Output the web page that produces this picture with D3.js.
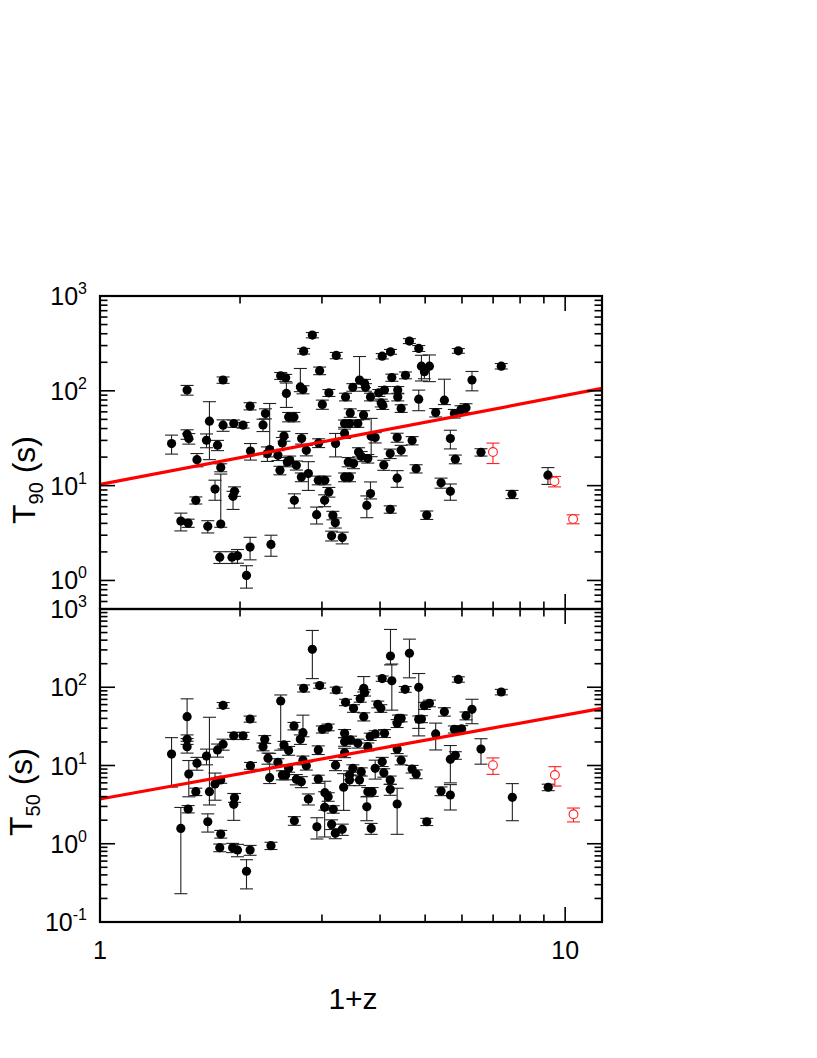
<!DOCTYPE html>
<meta charset="utf-8">
<html>
<head>
<title>T90 and T50 versus 1+z</title>
<script src="https://cdn.jsdelivr.net/npm/d3@7"></script>
<style>
body { margin: 0; background: #fff; }
text { font-family: "Liberation Sans", Arial, sans-serif; fill: #000; }
</style>
</head>
<body>
<script>
// each row: [1+z, duration (s), error down, error up]
var t90Rows = [
  [1.425, 27.8, 6.3, 6.3], [1.539, 102, 12, 12], [1.539, 34.8, 4, 4], [1.552, 31.4, 4, 4],
  [1.492, 4.23, 0.9, 0.9], [1.547, 4.03, 0.4, 0.4], [1.607, 7.0, 0.6, 0.6], [1.616, 18.8, 3, 3],
  [1.694, 30.1, 5, 5], [1.705, 3.72, 0.55, 0.55], [1.719, 47.8, 29, 29], [1.767, 9.21, 2.2, 2.2],
  [1.789, 26.7, 3.3, 3.3], [1.818, 15.5, 1.5, 1.5], [1.818, 3.94, 0.3, 9.3], [1.839, 130, 10, 10],
  [1.839, 43.4, 6, 6], [1.939, 45.2, 4, 4], [1.946, 8.71, 1, 1], [1.932, 7.71, 2.1, 1],
  [2.030, 43.4, 3, 3], [1.809, 1.76, 0.25, 0.25], [1.922, 1.76, 0.25, 0.25], [1.975, 1.82, 0.3, 0.3],
  [2.102, 2.25, 0.6, 0.6], [2.065, 1.13, 0.3, 0.3], [2.102, 68.9, 6, 6], [2.106, 23.2, 4.6, 4.6],
  [2.331, 2.40, 0.6, 0.6], [2.241, 43.7, 6.5, 6.5], [2.268, 57.6, 7, 7], [2.290, 21.8, 3.8, 3.8],
  [2.316, 24.0, 3.9, 49.5], [2.413, 20.9, 2.5, 2.5], [2.437, 14.5, 1.5, 1.5], [2.466, 28.2, 4, 4],
  [2.486, 33.4, 4, 4], [2.446, 144, 12, 12], [2.507, 137, 12, 12], [2.516, 93.8, 27, 27],
  [2.544, 53.1, 6, 6], [2.612, 53.1, 6, 6], [2.528, 17.8, 2, 2], [2.557, 18.5, 2, 2],
  [2.617, 7.0, 1.2, 1.2], [2.643, 16.4, 1.8, 1.8], [2.696, 110, 12, 62], [2.731, 103, 10, 10],
  [2.713, 31.4, 4, 4], [2.777, 23.6, 3, 3], [2.709, 12.3, 1.3, 1.3], [2.805, 13.4, 4.5, 4.5],
  [2.740, 262, 18, 18], [2.861, 387, 25, 25], [2.966, 163, 15, 15], [3.006, 71.8, 8, 8],
  [3.105, 95.2, 8, 8], [2.951, 28.2, 3, 3], [2.922, 4.94, 1, 1], [2.946, 11.4, 1.2, 1.2],
  [3.044, 11.4, 1.2, 1.2], [3.105, 8.57, 1, 1], [3.040, 7.0, 1, 1], [3.167, 4.86, 0.5, 0.5],
  [3.205, 4.07, 0.5, 0.5], [3.147, 2.96, 0.35, 0.35], [3.317, 2.83, 0.4, 0.4], [3.220, 236, 18, 18],
  [3.372, 86.3, 8, 8], [3.209, 27.8, 7.7, 7.7], [3.356, 45.2, 4, 4], [3.356, 35.5, 4, 4],
  [3.417, 17.8, 2, 2], [3.356, 12.3, 1.3, 1.3], [4.043, 232, 15, 15], [4.212, 258, 15, 15],
  [4.626, 335, 20, 20], [4.844, 280, 20, 20], [4.909, 182, 55, 55], [4.982, 159, 25, 25],
  [5.107, 182, 57, 57], [5.893, 264, 15, 15], [7.289, 182, 12, 12], [6.305, 130, 30, 30],
  [4.240, 138, 12, 12], [4.536, 146, 12, 12], [3.613, 130, 12, 100], [3.704, 120, 12, 12],
  [3.722, 109, 10, 10], [3.496, 109, 10, 10], [3.975, 95.2, 8, 8], [4.089, 102, 9, 9],
  [4.366, 102, 9, 9], [4.366, 86.3, 8, 8], [4.023, 74.6, 7, 7], [4.054, 70.6, 7, 7],
  [3.815, 86.3, 8, 8], [4.844, 81.7, 20, 20], [4.440, 65.2, 6, 6], [5.500, 79.6, 8, 53],
  [5.268, 59.0, 6, 6], [5.778, 57.6, 6, 6], [5.972, 63.6, 6, 6], [6.121, 66.1, 7, 7],
  [3.451, 58.5, 6, 6], [3.686, 55.7, 6, 6], [3.439, 45.2, 4, 4], [3.583, 45.2, 4, 4],
  [3.828, 33.2, 13, 18], [3.905, 32.2, 4, 4], [4.353, 32.2, 3.5, 3.5], [4.688, 29.9, 3, 3],
  [5.665, 31.4, 7, 7], [4.440, 23.6, 3, 3], [4.206, 21.8, 2.5, 2.5], [3.596, 22.6, 2.5, 2.5],
  [3.644, 20.4, 2.5, 2.5], [3.765, 19.3, 2, 2], [3.508, 17.1, 2, 2], [4.075, 16.5, 2, 2],
  [5.806, 19.0, 2, 2], [6.592, 22.5, 2, 2], [4.782, 15.1, 1.5, 1.5], [3.439, 12.3, 1.3, 1.3],
  [4.353, 12.0, 2.4, 2.4], [5.410, 10.7, 1.3, 1.3], [5.665, 8.71, 1.7, 1.7], [3.815, 8.24, 1, 2.7],
  [3.746, 6.19, 1.6, 1.6], [4.206, 5.62, 0.5, 0.5], [5.040, 4.90, 0.5, 0.5], [7.687, 8.10, 0.8, 0.8],
  [9.182, 12.9, 2.6, 2.6]
];
var t90Red = [[6.995, 22.6, 5.5, 5.5], [9.485, 11.1, 1.4, 1.4], [10.40, 4.44, 0.48, 0.48]];
var t90Fit = [[1, 10.3], [12, 106]];

var t50Rows = [
  [1.425, 14.0, 8.7, 8.7], [1.492, 1.57, 1.34, 1.34], [1.539, 42.1, 20, 29], [1.539, 21.6, 3, 3],
  [1.539, 17.4, 3, 3], [1.552, 7.78, 3.8, 3.8], [1.547, 2.78, 0.3, 0.3], [1.607, 4.63, 0.5, 0.5],
  [1.616, 10.7, 2, 2], [1.694, 13.2, 3, 3], [1.705, 1.91, 0.5, 0.5], [1.719, 4.63, 1.5, 36.7],
  [1.767, 5.80, 2.2, 2.2], [1.789, 15.8, 3, 3], [1.839, 18.7, 3, 3], [1.839, 58.8, 5, 5],
  [1.818, 6.53, 0.6, 0.6], [1.818, 1.33, 0.15, 0.15], [1.809, 0.891, 0.1, 0.1], [1.939, 24.0, 2.5, 2.5],
  [1.946, 3.88, 0.5, 0.5], [1.939, 3.19, 1.2, 1.2], [2.030, 24.0, 2.5, 2.5], [1.928, 0.891, 0.12, 0.12],
  [1.975, 0.832, 0.15, 0.15], [2.102, 0.832, 0.12, 0.12], [2.065, 0.445, 0.18, 0.18], [2.102, 39.3, 3.5, 3.5],
  [2.106, 9.94, 1, 1], [2.331, 0.944, 0.1, 0.1], [2.241, 17.4, 2, 2], [2.260, 21.6, 2.5, 2.5],
  [2.297, 12.4, 2, 2], [2.316, 6.98, 1.1, 7.3], [2.413, 11.0, 1.2, 1.2], [2.446, 66.7, 51, 13],
  [2.466, 7.56, 1, 1], [2.507, 7.56, 1, 1], [2.486, 18.3, 2, 2], [2.544, 15.5, 2, 2],
  [2.544, 9.20, 1, 1], [2.612, 32.0, 3.5, 3.5], [2.617, 1.97, 0.25, 0.25], [2.696, 21.6, 3, 3],
  [2.731, 26.3, 3, 17.7], [2.643, 6.66, 1, 1], [2.709, 6.21, 1, 1], [2.731, 11.7, 1.5, 1.5],
  [2.777, 9.94, 1.2, 1.2], [2.805, 3.73, 0.6, 0.6], [2.740, 97.0, 10, 10], [2.861, 305, 176, 227],
  [2.966, 105, 8, 8], [3.220, 92.2, 8, 8], [3.006, 29.0, 3, 3], [3.094, 30.8, 3, 3],
  [2.946, 15.8, 2, 2], [2.946, 6.72, 0.8, 0.8], [3.209, 10.1, 1.5, 1.5], [3.044, 4.49, 1.8, 1.8],
  [3.094, 3.99, 0.5, 0.5], [3.040, 2.92, 1.7, 1.7], [2.926, 1.65, 0.5, 0.5], [3.173, 2.76, 0.3, 0.3],
  [3.147, 1.77, 0.25, 0.25], [3.205, 1.36, 0.2, 0.2], [3.317, 1.53, 0.25, 0.25], [3.356, 25.8, 3, 3],
  [3.356, 20.1, 2.5, 2.5], [3.372, 64.2, 6, 6], [3.340, 5.27, 2.6, 2.6], [4.212, 251, 58, 297],
  [4.626, 272, 140, 140], [4.043, 129, 10, 10], [4.240, 121, 70, 77], [4.529, 94.2, 8, 8],
  [4.844, 99.8, 70, 50], [5.893, 126, 10, 10], [7.289, 86.9, 7, 7], [3.690, 97.0, 10, 40],
  [3.704, 85.2, 8, 8], [3.626, 71.4, 7, 7], [3.508, 53.8, 6, 6], [3.955, 60.5, 6, 6],
  [4.015, 53.8, 6, 6], [3.690, 42.1, 5, 5], [4.982, 58.1, 6, 6], [5.107, 62.4, 6, 6],
  [5.500, 48.7, 6, 6], [6.305, 52.2, 18, 18], [6.121, 43.3, 5, 5], [4.381, 40.1, 4, 4],
  [4.440, 40.1, 4, 4], [4.353, 34.6, 4, 4], [4.844, 38.9, 15, 4], [4.909, 39.3, 4, 4],
  [5.778, 29.0, 3, 3], [5.990, 29.3, 3, 3], [5.268, 25.3, 9.5, 9.5], [4.089, 25.8, 3, 3],
  [3.810, 23.4, 2.5, 2.5], [3.905, 25.3, 2.5, 2.5], [3.457, 21.2, 2.5, 2.5], [3.583, 19.2, 2.5, 2.5],
  [3.765, 17.4, 2, 2], [3.356, 14.6, 2, 2], [4.353, 16.2, 2, 2], [4.440, 11.7, 1.5, 1.5],
  [5.665, 12.0, 6, 6], [5.806, 13.5, 1.5, 1.5], [6.592, 16.2, 5.8, 5.8], [4.043, 11.2, 1.5, 1.5],
  [3.905, 9.20, 2.5, 2.5], [4.075, 8.09, 1, 1], [4.688, 9.02, 1, 1], [4.782, 7.78, 1, 1],
  [3.496, 9.20, 1, 1], [3.644, 8.33, 1, 1], [3.439, 7.56, 1, 1], [3.613, 6.53, 1, 1],
  [3.439, 6.53, 1, 1], [4.206, 6.53, 0.8, 0.8], [4.206, 4.96, 0.8, 0.8], [3.765, 4.63, 0.6, 0.6],
  [3.847, 4.63, 0.6, 0.6], [5.410, 4.72, 0.6, 0.6], [5.665, 4.20, 1.5, 1.5], [7.699, 3.92, 1.95, 1.95],
  [9.195, 5.27, 0.5, 0.5], [4.353, 3.22, 1.9, 1.9], [3.746, 2.97, 1, 1], [3.828, 1.57, 0.25, 0.25],
  [5.040, 1.91, 0.2, 0.2]
];
var t50Red = [[6.995, 10.1, 2.4, 2.4], [9.504, 7.56, 2.1, 2.1], [10.42, 2.38, 0.48, 0.48]];
var t50Fit = [[1, 3.73], [12, 53.8]];

var xTickLabels = [1, 10];
var t90Exps = ["0", "1", "2", "3"];
var t50Exps = ["-1", "0", "1", "2", "3"];

var width = 817, height = 1058;
var left = 100, right = 602;
var capW = 6.5;

var svg = d3.select("body").append("svg")
    .attr("width", width)
    .attr("height", height);

var x = d3.scaleLog().domain([1, 12]).range([left, right]);

var panels = [
    { id: "p90", rows: t90Rows, red: t90Red, fit: t90Fit, exps: t90Exps, sub: "90",
      y: d3.scaleLog().domain([0.5, 1000]).range([609, 296]), titleX: 35, titleY: 480 },
    { id: "p50", rows: t50Rows, red: t50Red, fit: t50Fit, exps: t50Exps, sub: "50",
      y: d3.scaleLog().domain([0.1, 1000]).range([922, 609]), titleX: 32, titleY: 792 }
];

function isMajor(v) {
    var l = Math.log10(v);
    return Math.abs(l - Math.round(l)) < 1e-6;
}

panels.forEach(function(p) {
    var y = p.y;
    var top = y.range()[1], bottom = y.range()[0];
    var g = svg.append("g");

    svg.append("clipPath").attr("id", "clip-" + p.id)
        .append("rect")
        .attr("x", left).attr("y", top)
        .attr("width", right - left).attr("height", bottom - top);

    var plot = g.append("g").attr("clip-path", "url(#clip-" + p.id + ")");

    function errBars(sel, rows, colour) {
        var eb = sel.selectAll(null).data(rows).enter().append("g")
            .attr("stroke", colour).attr("stroke-width", 1.1);
        eb.append("line")
            .attr("x1", d => x(d[0])).attr("x2", d => x(d[0]))
            .attr("y1", d => y(Math.max(d[1] - d[2], y.domain()[0] * 0.5)))
            .attr("y2", d => y(d[1] + d[3]));
        eb.filter(d => d[1] - d[2] > 0).append("line")
            .attr("x1", d => x(d[0]) - capW).attr("x2", d => x(d[0]) + capW)
            .attr("y1", d => y(d[1] - d[2])).attr("y2", d => y(d[1] - d[2]));
        eb.append("line")
            .attr("x1", d => x(d[0]) - capW).attr("x2", d => x(d[0]) + capW)
            .attr("y1", d => y(d[1] + d[3])).attr("y2", d => y(d[1] + d[3]));
    }

    errBars(plot, p.rows, "#222");
    errBars(plot, p.red, "#ff2020");

    plot.selectAll(null).data(p.rows).enter().append("circle")
        .attr("cx", d => x(d[0])).attr("cy", d => y(d[1]))
        .attr("r", 4.6).attr("fill", "#000");

    plot.selectAll(null).data(p.red).enter().append("circle")
        .attr("cx", d => x(d[0])).attr("cy", d => y(d[1]))
        .attr("r", 4.4).attr("fill", "#fff")
        .attr("stroke", "#ff2020").attr("stroke-width", 1.1);

    plot.append("path")
        .datum(p.fit)
        .attr("d", d3.line().x(d => x(d[0])).y(d => y(d[1])))
        .attr("stroke", "#ff0000").attr("stroke-width", 3.2).attr("fill", "none");

    // y ticks, both sides, pointing inward
    var yt = y.ticks().filter(v => v > y.domain()[0] && v < y.domain()[1]);
    g.selectAll(null).data(yt).enter().append("line")
        .attr("x1", left).attr("x2", d => left + (isMajor(d) ? 15 : 7.5))
        .attr("y1", d => y(d)).attr("y2", d => y(d))
        .attr("stroke", "#000").attr("stroke-width", 1.6);
    g.selectAll(null).data(yt).enter().append("line")
        .attr("x1", right).attr("x2", d => right - (isMajor(d) ? 15 : 7.5))
        .attr("y1", d => y(d)).attr("y2", d => y(d))
        .attr("stroke", "#000").attr("stroke-width", 1.6);

    // x ticks on top and bottom edge of the panel
    var xt = x.ticks().filter(v => v > 1 && v < 12);
    [[top, 1], [bottom, -1]].forEach(function(e) {
        g.selectAll(null).data(xt).enter().append("line")
            .attr("x1", d => x(d)).attr("x2", d => x(d))
            .attr("y1", e[0]).attr("y2", d => e[0] + e[1] * (isMajor(d) ? 15 : 7.5))
            .attr("stroke", "#000").attr("stroke-width", 1.6);
    });

    g.append("rect")
        .attr("x", left).attr("y", top)
        .attr("width", right - left).attr("height", bottom - top)
        .attr("fill", "none").attr("stroke", "#000").attr("stroke-width", 2.2);

    // y tick labels 10^n
    var lab = g.selectAll(null).data(p.exps).enter().append("text")
        .attr("x", 87)
        .attr("y", d => y(Math.pow(10, +d)) + 9)
        .attr("text-anchor", "end")
        .style("font-size", "25px");
    lab.append("tspan").text("10");
    lab.append("tspan").attr("dy", -11).style("font-size", "16px").text(d => d);

    // axis title
    var t = g.append("text")
        .attr("transform", "translate(" + p.titleX + "," + p.titleY + ") rotate(-90)")
        .attr("text-anchor", "middle")
        .style("font-size", "32px");
    t.append("tspan").text("T");
    t.append("tspan").attr("dy", 8).style("font-size", "20px").text(p.sub);
    t.append("tspan").attr("dy", -8).text(" (s)");
});

svg.selectAll(null).data(xTickLabels).enter().append("text")
    .attr("x", d => x(d)).attr("y", 959)
    .attr("text-anchor", "middle")
    .style("font-size", "25px")
    .text(d => d);

svg.append("text")
    .attr("x", 353).attr("y", 1009)
    .attr("text-anchor", "middle")
    .style("font-size", "30px")
    .text("1+z");
</script>
</body>
</html>
